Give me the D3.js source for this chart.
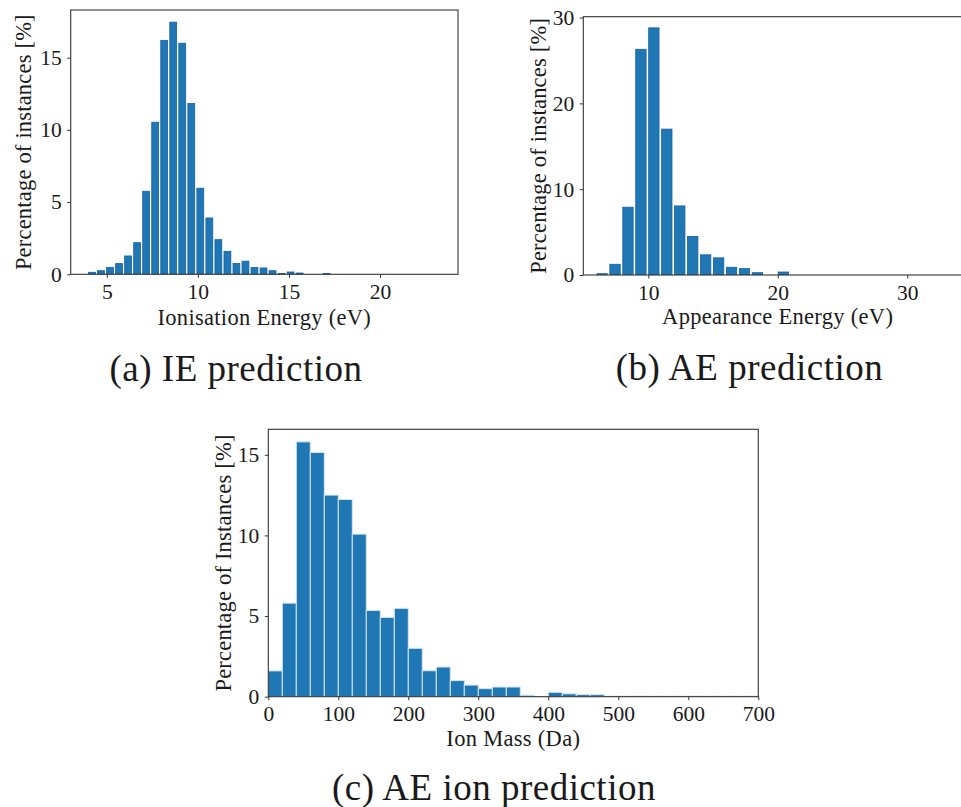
<!DOCTYPE html>
<html>
<head>
<meta charset="utf-8">
<script src="https://cdn.jsdelivr.net/npm/d3@7"></script>
<style>
  html, body { margin: 0; padding: 0; background: #fff; }
  svg { display: block; font-family: "Liberation Serif", "DejaVu Serif", serif; }
</style>
</head>
<body>
<svg id="fig" width="961" height="807"></svg>
<script>
// ---- Ionisation energy histogram (percent of instances per 0.4956 eV bin) ----
const ieBinStart = 3.94;
const ieBinWidth = 0.4956;
const ieValues = [0.14, 0.25, 0.48, 0.74, 1.27, 2.19, 5.75, 10.53, 16.2, 17.46,
                  16.0, 11.82, 5.96, 3.9, 2.4, 1.59, 0.75, 0.91, 0.47, 0.44,
                  0.25, 0.05, 0.16, 0.09, 0, 0, 0.05, 0, 0, 0,
                  0, 0, 0, 0, 0, 0, 0, 0, 0];
const ieXDomain = [3.02, 24.28];
const ieYDomain = [0, 18.3];
const ieXTicks = [5, 10, 15, 20];
const ieYTicks = [0, 5, 10, 15];

// ---- Appearance energy histogram (1 eV bins) ----
const aeBinStart = 5.93;
const aeBinWidth = 1;
const aeValues = [0.15, 1.25, 7.9, 26.3, 28.8, 17.0, 8.05, 4.5, 2.35, 2.0,
                  0.9, 0.74, 0.27, 0, 0.35];
const aeXDomain = [4.98, 35.0];
const aeYDomain = [0, 30.1];
const aeXTicks = [10, 20, 30];
const aeYTicks = [0, 10, 20, 30];

// ---- Ion mass histogram (20 Da bins) ----
const ionBinStart = 0;
const ionBinWidth = 20;
const ionValues = [1.6, 5.8, 15.8, 15.14, 12.5, 12.23, 10.08, 5.35, 4.92, 5.48,
                   3.0, 1.61, 1.84, 1.0, 0.72, 0.5, 0.6, 0.6, 0.09, 0,
                   0.27, 0.18, 0.13, 0.13, 0.04, 0.04, 0.04, 0.04, 0.04, 0.04,
                   0.04, 0.04, 0.04, 0.04, 0.04];
const ionXDomain = [0, 700];
const ionYDomain = [0, 16.58];
const ionXTicks = [0, 100, 200, 300, 400, 500, 600, 700];
const ionYTicks = [0, 5, 10, 15];

const svg = d3.select("#fig");
const INK = "#1a1a1a";
const SPINE = "#333333";
const BLUE = "#1f77b4";

function panel(opts) {
  const { box, xDomain, yDomain, xTicks, yTicks, binStart, binWidth, values,
          barFrac, barStroke, barStrokeWidth, xLabel, yLabel, yLabelX, xLabelY,
          caption, captionX, captionY } = opts;
  const x = d3.scaleLinear().domain(xDomain).range([box.left, box.right]);
  const y = d3.scaleLinear().domain(yDomain).range([box.bottom, box.top]);

  const g = svg.append("g");

  // clip so bars never spill past the frame
  const clipId = "clip" + Math.round(box.left);
  svg.append("clipPath").attr("id", clipId)
    .append("rect")
    .attr("x", box.left).attr("y", box.top)
    .attr("width", box.right - box.left).attr("height", box.bottom - box.top);

  const bins = values.map((v, i) => ({
    x0: binStart + i * binWidth,
    x1: binStart + (i + 1) * binWidth,
    v
  }));
  const pad = (1 - barFrac) / 2;

  g.append("g").attr("clip-path", `url(#${clipId})`)
    .selectAll("rect").data(bins.filter(d => d.v > 0)).join("rect")
    .attr("x", d => x(d.x0 + pad * binWidth))
    .attr("width", d => x(d.x0 + (1 - pad) * binWidth) - x(d.x0 + pad * binWidth))
    .attr("y", d => y(d.v))
    .attr("height", d => y(0) - y(d.v))
    .attr("fill", BLUE)
    .attr("stroke", barStroke)
    .attr("stroke-width", barStrokeWidth);

  // frame
  g.append("rect")
    .attr("x", box.left).attr("y", box.top)
    .attr("width", box.right - box.left).attr("height", box.bottom - box.top)
    .attr("fill", "none").attr("stroke", SPINE).attr("stroke-width", 1.1);

  const xAxis = d3.axisBottom(x).tickValues(xTicks).tickSize(3.5).tickPadding(6)
    .tickFormat(d3.format("d"));
  const yAxis = d3.axisLeft(y).tickValues(yTicks).tickSize(3.5).tickPadding(5.5)
    .tickFormat(d3.format("d"));

  const gx = g.append("g").attr("transform", `translate(0,${box.bottom})`).call(xAxis);
  const gy = g.append("g").attr("transform", `translate(${box.left},0)`).call(yAxis);
  [gx, gy].forEach(a => {
    a.select(".domain").remove();
    a.selectAll(".tick line").attr("stroke", SPINE).attr("stroke-width", 1);
    a.selectAll(".tick text").attr("fill", INK)
      .style("font-family", "'Liberation Serif', serif").style("font-size", "21.5px");
  });

  g.append("text")
    .attr("x", (box.left + box.right) / 2).attr("y", xLabelY)
    .attr("text-anchor", "middle").attr("fill", INK)
    .style("font-size", "22.5px").style("letter-spacing", "0.3px").text(xLabel);

  g.append("text")
    .attr("transform", `translate(${yLabelX},${(box.top + box.bottom) / 2}) rotate(-90)`)
    .attr("text-anchor", "middle").attr("fill", INK)
    .style("font-size", "22.5px").style("letter-spacing", "0.2px").text(yLabel);

  g.append("text")
    .attr("x", captionX).attr("y", captionY)
    .attr("text-anchor", "middle").attr("fill", INK)
    .style("font-size", "37px").style("letter-spacing", "0.5px").text(caption);
}

panel({
  box: { left: 70.7, right: 458, top: 10, bottom: 274.3 },
  xDomain: ieXDomain, yDomain: ieYDomain, xTicks: ieXTicks, yTicks: ieYTicks,
  binStart: ieBinStart, binWidth: ieBinWidth, values: ieValues,
  barFrac: 0.76, barStroke: "#1560a6", barStrokeWidth: 0.8,
  xLabel: "Ionisation Energy (eV)", yLabel: "Percentage of instances [%]",
  yLabelX: 31, xLabelY: 325,
  caption: "(a) IE prediction", captionX: 236, captionY: 381
});

panel({
  box: { left: 583.3, right: 972, top: 16.7, bottom: 275 },
  xDomain: aeXDomain, yDomain: aeYDomain, xTicks: aeXTicks, yTicks: aeYTicks,
  binStart: aeBinStart, binWidth: aeBinWidth, values: aeValues,
  barFrac: 0.8, barStroke: "#1560a6", barStrokeWidth: 0.8,
  xLabel: "Appearance Energy (eV)", yLabel: "Percentage of instances [%]",
  yLabelX: 546, xLabelY: 324,
  caption: "(b) AE prediction", captionX: 749.5, captionY: 380
});

panel({
  box: { left: 268.3, right: 758.3, top: 429.3, bottom: 696.7 },
  xDomain: ionXDomain, yDomain: ionYDomain, xTicks: ionXTicks, yTicks: ionYTicks,
  binStart: ionBinStart, binWidth: ionBinWidth, values: ionValues,
  barFrac: 1, barStroke: "#d6e4f2", barStrokeWidth: 1,
  xLabel: "Ion Mass (Da)", yLabel: "Percentage of Instances [%]",
  yLabelX: 231, xLabelY: 746,
  caption: "(c) AE ion prediction", captionX: 494, captionY: 800
});
</script>
</body>
</html>
